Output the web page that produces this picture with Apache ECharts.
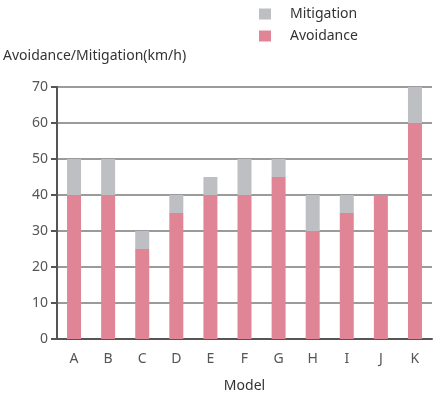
<!DOCTYPE html>
<html>
<head>
<meta charset="utf-8">
<script src="https://cdn.jsdelivr.net/npm/echarts@6/dist/echarts.min.js"></script>
<style>
  html, body { margin: 0; padding: 0; background: #fff; }
  #chart { width: 438px; height: 398px; }
</style>
</head>
<body>
<div id="chart"></div>
<script>
const models = ["A", "B", "C", "D", "E", "F", "G", "H", "I", "J", "K"];
const avoidance = [40, 40, 25, 35, 40, 40, 45, 30, 35, 40, 60];
const mitigation = [10, 10, 5, 5, 5, 10, 5, 10, 5, 0, 10];

const font = "Noto Sans";
const chart = echarts.init(document.getElementById("chart"));

chart.setOption({
  animation: false,
  textStyle: { fontFamily: font },
  legend: {
    orient: "vertical",
    left: 254,
    top: 2,
    icon: "rect",
    itemWidth: 12,
    itemHeight: 11,
    itemGap: 8,
    data: ["Mitigation", "Avoidance"],
    textStyle: { fontSize: 14, color: "#333", padding: [0, 0, 0, 14] },
  },
  grid: { left: 57, right: 6, top: 87, bottom: 55 },
  xAxis: {
    type: "category",
    data: models,
    name: "Model",
    nameLocation: "middle",
    nameGap: 40,
    nameTextStyle: { fontSize: 14, color: "#333" },
    axisLine: { lineStyle: { color: "#555", width: 2 } },
    axisTick: { length: 5, lineStyle: { color: "#555", width: 2 } },
    axisLabel: { fontSize: 14, color: "#555", margin: 13 },
  },
  yAxis: {
    type: "value",
    min: 0,
    max: 70,
    interval: 10,
    name: "Avoidance/Mitigation(km/h)",
    nameGap: 24,
    nameTextStyle: { fontSize: 14, color: "#333", align: "left", padding: [0, 0, 0, -54] },
    axisLine: { show: true, lineStyle: { color: "#555", width: 2 } },
    axisTick: { show: true, length: 6, lineStyle: { color: "#555", width: 2 } },
    axisLabel: { fontSize: 14, color: "#555", margin: 9 },
    splitLine: { lineStyle: { color: "#7a7a7a", width: 1.5 } },
  },
  series: [
    {
      name: "Avoidance",
      type: "bar",
      stack: "total",
      barWidth: 14,
      itemStyle: { color: "#e08596" },
      data: avoidance,
    },
    {
      name: "Mitigation",
      type: "bar",
      stack: "total",
      barWidth: 14,
      itemStyle: { color: "#bdbfc3" },
      data: mitigation,
    },
  ],
});
</script>
</body>
</html>
